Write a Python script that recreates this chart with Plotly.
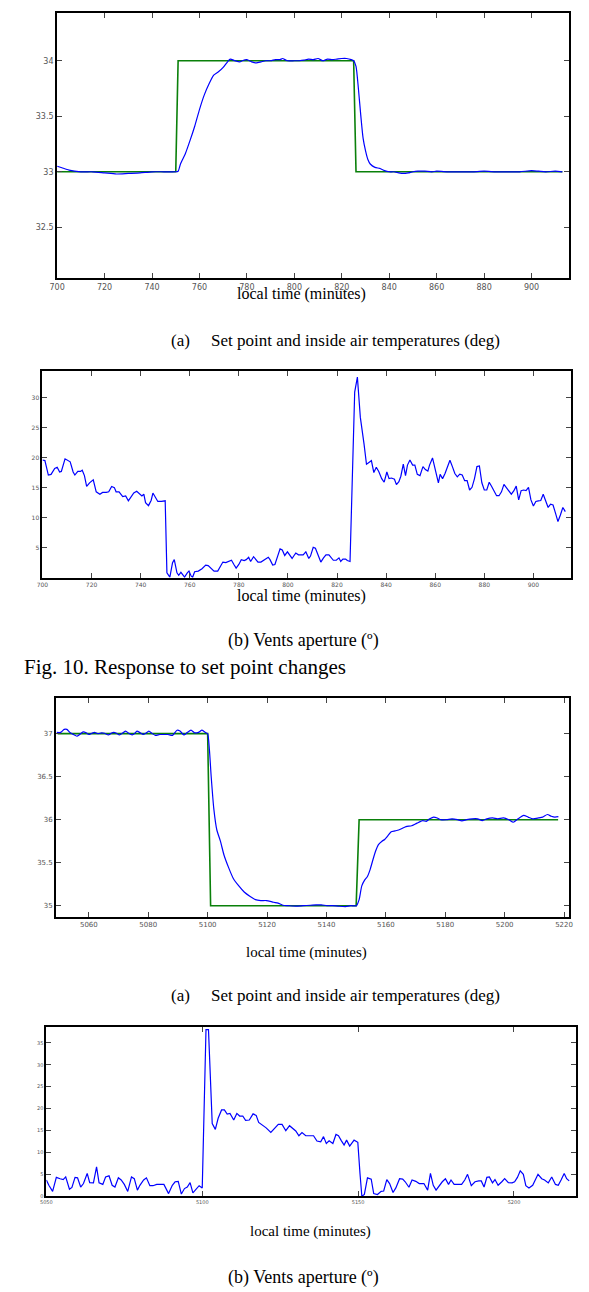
import plotly.graph_objects as go

# ---------------- DATA ----------------
# Fig 10 (a): set point and inside air temperature
sp1_t = [700, 750, 751, 825, 826, 913]
sp1_v = [33, 33, 34, 34, 33, 33]
temp1_t = [700, 702, 705, 710, 715, 720, 725, 730, 735, 740, 745, 750, 751, 752, 754, 756, 758, 760,
           762, 764, 766, 768, 770, 772, 773, 775, 777, 778, 780, 782, 784, 786, 788, 790, 792, 794,
           795, 797, 800, 802, 804, 806, 808, 810, 812, 814, 816, 818, 820, 822, 824, 825, 826, 827,
           828, 829, 830, 831, 832, 834, 836, 838, 840, 842, 844, 846, 848, 850, 852, 855, 858, 860,
           865, 870, 875, 880, 885, 890, 895, 900, 903, 906, 910, 913]
temp1_v = [33.05, 33.036, 33.015, 33.0, 33.0, 32.99, 32.98, 32.985, 32.99, 33.0, 33.0, 33.0, 33.005,
           33.07, 33.16, 33.28, 33.41, 33.56, 33.69, 33.79, 33.87, 33.9, 33.94, 33.995, 34.015, 34.0,
           33.99, 34.0, 34.01, 33.99, 33.98, 33.99, 34.0, 34.0, 34.01, 34.01, 34.02, 34.0, 34.0, 34.0,
           34.005, 34.015, 34.01, 34.02, 34.0, 34.015, 34.01, 34.015, 34.02, 34.02, 34.01, 34.0, 33.95,
           33.75, 33.51, 33.3, 33.19, 33.11, 33.07, 33.04, 33.03, 33.01, 33.0, 33.0, 32.99, 32.985,
           32.99, 33.0, 33.005, 33.005, 33.0, 33.005, 33.0, 33.0, 33.0, 33.005, 33.0, 33.0, 33.0,
           33.01, 33.005, 33.0, 33.005, 33.0]

# Fig 10 (b): vents aperture
vent1_t = [700, 701, 702.4, 703.5, 705, 706, 707, 707.7, 709.2, 710.2, 711.3, 712.5, 713.2, 714.4,
           715.5, 716.2, 717.1, 718, 719.2, 720.7, 721.9, 723.4, 724.5, 726, 727, 728.2, 729.3, 730,
           731.2, 732.7, 733.9, 735, 736, 737.2, 738.4, 739.5, 740.5, 741.3, 742, 743.2, 744.3, 745,
           745.9, 747, 748.5, 750, 750.7, 751.9, 753, 753.7, 754.8, 755.5, 756.4, 757.2, 757.9, 759,
           759.7, 760.6, 761.2, 762, 763.5, 765, 766.5, 767.5, 768.7, 769.9, 771.4, 772.5, 773.5,
           774.7, 775.8, 777, 778, 778.9, 780, 781, 782.2, 783, 784, 784.8, 786, 786.7, 787.8, 789,
           790, 791.2, 792, 792.7, 793.8, 794.7, 795.7, 796.8, 797.7, 798.7, 799.8, 800.5, 801.7,
           802.5, 803.2, 804.3, 805.2, 806.2, 807.3, 808.5, 809.2, 810.3, 811.2, 812.2, 813.4, 814.5,
           815.5, 816.7, 817.8, 818.5, 819.7, 820.8, 821.5, 822.4, 823.5, 824.2, 825.3, 826, 827.2,
           828.3, 829.5, 831, 832, 833, 834, 835, 836, 837, 838.2, 839.2, 840.3, 841.2, 842.2, 843.4,
           844.2, 845.2, 846, 847, 847.9, 848.7, 849.7, 850.8, 851.7, 852.7, 853.8, 855, 856, 857,
           857.7, 858.9, 860, 861.3, 862, 863, 864, 865, 866, 867, 868, 869, 870, 871, 872, 873, 874,
           875, 876, 877, 878, 879, 880, 881, 882, 883, 884, 885, 886, 887, 888, 889, 890, 891, 892,
           893, 894, 895, 896, 897, 898, 899, 900, 901, 902, 903, 904, 905, 906, 907, 908, 909, 910,
           911, 912, 913]
vent1_v = [19.6, 19.5, 17.1, 17.2, 18.2, 18.4, 17.6, 17.7, 19.8, 19.5, 19.3, 17.6, 17.1, 17.7, 17.7,
           17.9, 17.0, 15.2, 15.8, 16.3, 14.3, 13.9, 14.2, 14.2, 14.3, 15.2, 15.0, 14.3, 14.3, 13.5,
           13.6, 12.8, 13.4, 14.1, 14.4, 13.9, 13.6, 13.9, 12.5, 12.0, 12.9, 14.1, 13.5, 12.7, 12.7,
           12.8, 0.8, 0.1, 2.5, 3.0, 0.8, 0.4, 0.9, 0.4, 0.1, 0.8, 1.1, 0.25, 0.1, 1.0, 1.1, 1.5, 2.1,
           2.0, 1.6, 1.1, 1.1, 1.9, 2.6, 2.5, 2.7, 2.9, 2.2, 1.6, 2.2, 3.0, 2.85, 3.0, 3.4, 2.7, 3.5,
           3.1, 2.6, 2.6, 2.85, 3.2, 3.4, 3.0, 2.1, 2.2, 3.6, 4.8, 4.6, 3.7, 4.3, 3.95, 3.2, 3.7, 4.1,
           3.8, 3.8, 3.8, 4.3, 3.2, 3.6, 5.05, 4.9, 3.8, 2.6, 3.3, 3.8, 3.8, 3.3, 2.9, 2.9, 3.3, 2.7,
           3.1, 3.1, 2.85, 2.7, 11.8, 30.9, 33.4, 26.7, 22.3, 18.9, 19.2, 19.5, 17.5, 18.4, 17.7, 16.5,
           15.9, 17.6, 16.5, 16.6, 16.4, 15.5, 16.0, 16.9, 18.9, 17.0, 18.75, 19.6, 18.75, 18.75,
           17.2, 17.0, 18.5, 18.0, 17.75, 18.75, 19.95, 17.8, 15.8, 17.2, 16.5, 17.35, 18.6, 19.55,
           18.5, 17.35, 16.8, 17.25, 17.1, 16.15, 16.15, 14.6, 15.05, 16.5, 18.5, 18.6, 15.8, 14.6,
           14.6, 15.9, 15.2, 14.3, 13.65, 13.65, 14.3, 15.55, 15.0, 14.45, 13.9, 14.45, 15.25, 12.95,
           14.5, 14.6, 14.5, 15.05, 12.95, 11.95, 12.7, 12.8, 12.85, 13.9, 12.85, 11.7, 12.25, 12.1,
           10.75, 9.35, 10.45, 11.7, 11.0]

# Fig 11 (a): set point and inside air temperature
sp2_t = [5049.5, 5100, 5101, 5150, 5151, 5218]
sp2_v = [37, 37, 35, 35, 36, 36]
temp2_t = [5049.2, 5050.5, 5051.7, 5052.6, 5053.6, 5054.8, 5056, 5056.9, 5058.1, 5059.1, 5060, 5061,
           5061.9, 5063.1, 5064.3, 5065.3, 5066.6, 5067.5, 5068.4, 5069.3, 5070.3, 5071.5, 5072.4,
           5073.4, 5074.6, 5075.5, 5076.2, 5077.3, 5078.3, 5079.2, 5080.2, 5081.2, 5082.4, 5083.9,
           5085.1, 5086.6, 5088.2, 5089.7, 5090.7, 5092, 5093.2, 5094.4, 5095.6, 5096.9, 5098.1,
           5099.4, 5100, 5100.6, 5101.2, 5102.1, 5103.1, 5104.3, 5105.5, 5107.1, 5108.6, 5110.5,
           5112.3, 5114.2, 5116.1, 5117.9, 5119.8, 5122.2, 5123.7, 5125.3, 5127.2, 5129.7, 5132.1,
           5134.6, 5136.5, 5138.3, 5140.2, 5142, 5143.9, 5146.4, 5148.2, 5150.1, 5151, 5151.9,
           5152.9, 5153.8, 5154.7, 5155.7, 5156.5, 5157.5, 5158.7, 5159.6, 5160.6, 5161.8, 5163.1,
           5164.3, 5165.6, 5166.8, 5168.7, 5169.9, 5171.1, 5172.4, 5173.6, 5174.8, 5176.1, 5177.3,
           5178.5, 5180.4, 5182.3, 5184.1, 5185.6, 5187.2, 5189.1, 5190.9, 5192.5, 5194, 5195.9,
           5197.7, 5199.6, 5201.4, 5202.9, 5204.5, 5206.4, 5207.9, 5209.5, 5211.4, 5212.8, 5214.4,
           5215.7, 5216.9, 5218.1]
temp2_v = [37.015, 37.015, 37.05, 37.05, 37.015, 36.99, 36.97, 36.99, 37.02, 37.01, 36.99, 37.005,
           37.015, 37.0, 37.01, 37.005, 36.985, 37.005, 37.015, 37.005, 36.985, 37.01, 37.03, 37.005,
           36.985, 37.005, 37.03, 37.01, 36.99, 37.005, 37.03, 37.005, 36.98, 36.99, 36.99, 36.99,
           36.98, 37.04, 37.03, 36.985, 37.015, 37.04, 37.01, 37.015, 37.04, 37.01, 37.0, 36.81, 36.5,
           36.12, 35.88, 35.75, 35.59, 35.44, 35.32, 35.23, 35.16, 35.11, 35.07, 35.06, 35.06, 35.04,
           35.03, 35.005, 35.0, 34.995, 35.0, 35.005, 35.01, 35.01, 35.0, 35.0, 34.995, 34.99, 35.0,
           35.0, 35.07, 35.23, 35.3, 35.34, 35.42, 35.54, 35.63, 35.71, 35.75, 35.77, 35.81, 35.86,
           35.87, 35.88, 35.9, 35.92, 35.93, 35.95, 35.97, 35.99, 35.98, 36.01, 36.03, 36.02, 36.0,
           36.0, 36.01, 36.0, 35.985, 36.0, 36.01, 36.01, 35.99, 36.01, 36.02, 36.01, 36.02, 36.0,
           35.97, 36.01, 36.05, 36.03, 36.01, 36.02, 36.03, 36.06, 36.04, 36.03, 36.035]

# Fig 11 (b): vents aperture
vent2_t = [5050, 5050.8, 5052, 5053.2, 5054.4, 5055.4, 5056.2, 5057.4, 5058.2, 5059.2, 5060, 5061,
           5061.9, 5063.1, 5063.9, 5065.1, 5066.1, 5066.9, 5068.1, 5069, 5070.1, 5071.1, 5072, 5073.1,
           5074, 5075, 5076.1, 5077.3, 5078.2, 5079.2, 5080, 5081.2, 5082.1, 5083.2, 5084.2, 5085.4,
           5086.8, 5087.7, 5089.2, 5090.4, 5091.3, 5092.3, 5093.3, 5094.3, 5095.2, 5096.1, 5097,
           5098.1, 5099, 5100, 5100.6, 5101.2, 5102, 5103.2, 5104.2, 5105.1, 5106.2, 5107.1, 5108,
           5108.9, 5110.1, 5111.1, 5112, 5113, 5113.9, 5115.1, 5116.3, 5117.3, 5118.1, 5119.3,
           5120.5, 5122, 5123.2, 5124.4, 5125.6, 5126.8, 5128, 5129.2, 5130, 5131, 5132, 5133.2,
           5134.4, 5135.7, 5136.8, 5138, 5138.9, 5139.8, 5140.7, 5141.9, 5142.9, 5143.7, 5144.6,
           5145.5, 5146.3, 5147.3, 5148.7, 5149.9, 5150.6, 5151.2, 5152, 5153, 5154.2, 5155, 5156.2,
           5157.4, 5158.2, 5159.2, 5160.1, 5161.2, 5162.1, 5163.3, 5164.3, 5165.1, 5166.3, 5167.3,
           5168.5, 5169.6, 5171.1, 5172.3, 5173.2, 5174.1, 5175, 5176.1, 5177, 5178, 5179, 5179.8,
           5180.8, 5182, 5183.2, 5184.2, 5185.1, 5186.3, 5187.5, 5188.7, 5189.5, 5190.4, 5191.3,
           5192.1, 5193.1, 5193.9, 5194.9, 5196.1, 5197, 5198.2, 5199.4, 5200.2, 5201.1, 5202, 5203,
           5203.8, 5204.8, 5206, 5206.8, 5207.7, 5208.9, 5209.8, 5211, 5212.1, 5213.3, 5214.2,
           5215.1, 5216.1, 5216.9, 5217.7]
vent2_v = [3.7, 2.5, 1.1, 4.3, 4.0, 3.8, 4.4, 1.6, 2.0, 4.3, 4.2, 2.1, 2.9, 5.2, 3.1, 3.05, 6.7, 3.05,
           2.7, 4.4, 4.65, 2.5, 2.1, 4.2, 3.7, 2.7, 1.1, 4.4, 4.0, 1.4, 2.5, 3.7, 4.2, 2.4, 2.4, 2.7,
           2.7, 2.7, 0.6, 2.5, 3.3, 3.4, 0.5, 1.75, 2.1, 3.1, 0.75, 1.6, 2.4, 1.9, 18.5, 38.0, 38.0,
           16.6, 15.25, 17.8, 19.7, 19.7, 18.75, 18.9, 17.4, 18.9, 18.3, 18.3, 17.3, 17.4, 18.8,
           18.45, 16.85, 16.25, 15.6, 14.55, 15.5, 16.4, 16.4, 14.95, 16.1, 15.5, 14.9, 13.8, 14.55,
           13.8, 13.8, 13.8, 12.6, 12.4, 13.6, 12.05, 12.65, 12.05, 14.1, 13.8, 12.7, 11.7, 12.8,
           11.45, 12.8, 12.3, 5.2, 0.0, 0.4, 4.2, 3.9, 0.6, 0.4, 1.1, 1.2, 3.8, 2.9, 0.85, 1.9, 4.0,
           3.9, 3.3, 2.05, 3.7, 3.4, 2.9, 2.9, 1.4, 5.2, 2.5, 1.4, 2.5, 3.3, 4.0, 2.7, 3.7, 2.7, 2.7,
           2.7, 3.7, 5.0, 2.4, 3.3, 3.5, 3.5, 2.1, 4.3, 4.4, 3.05, 3.8, 2.5, 3.3, 4.0, 3.1, 3.05, 3.3,
           4.3, 5.8, 5.0, 2.4, 1.9, 2.5, 3.8, 5.0, 4.0, 3.7, 3.05, 4.4, 2.7, 2.5, 3.7, 5.2, 4.0, 3.5]

# tick definitions
p1_xticks = [700, 720, 740, 760, 780, 800, 820, 840, 860, 880, 900]
p1_yticks = [32.5, 33, 33.5, 34]
p2_yticks = [5, 10, 15, 20, 25, 30]
p3_xticks = [5060, 5080, 5100, 5120, 5140, 5160, 5180, 5200, 5220]
p3_yticks = [35, 35.5, 36, 36.5, 37]
p4_xticks = [5050, 5100, 5150, 5200]
p4_yticks = [0, 5, 10, 15, 20, 25, 30, 35]

# ---------------- FIGURE ----------------
W, H = 589, 1292
BLUE = "#0000ff"
GREEN = "#0a800a"

def dx(a, b):
    return [a / W, b / W]

def dy(top, bottom):
    return [1 - bottom / H, 1 - top / H]

fig = go.Figure()
fig.add_trace(go.Scatter(x=sp1_t, y=sp1_v, mode="lines", line=dict(color=GREEN, width=1.6), xaxis="x", yaxis="y"))
fig.add_trace(go.Scatter(x=temp1_t, y=temp1_v, mode="lines", line=dict(color=BLUE, width=1.2, shape="spline", smoothing=0.6), xaxis="x", yaxis="y"))
fig.add_trace(go.Scatter(x=vent1_t, y=vent1_v, mode="lines", line=dict(color=BLUE, width=1.2), xaxis="x2", yaxis="y2"))
fig.add_trace(go.Scatter(x=sp2_t, y=sp2_v, mode="lines", line=dict(color=GREEN, width=1.6), xaxis="x3", yaxis="y3"))
fig.add_trace(go.Scatter(x=temp2_t, y=temp2_v, mode="lines", line=dict(color=BLUE, width=1.2, shape="spline", smoothing=0.6), xaxis="x3", yaxis="y3"))
fig.add_trace(go.Scatter(x=vent2_t, y=vent2_v, mode="lines", line=dict(color=BLUE, width=1.2), xaxis="x4", yaxis="y4"))

def ax(domain, rng, ticks, fsize, anchor, labels=None):
    d = dict(domain=domain, range=rng, tickvals=ticks, showgrid=False, zeroline=False,
             showline=True, linecolor="black", linewidth=2, mirror="ticks",
             ticks="inside", ticklen=5, tickwidth=1, tickcolor="#444",
             tickfont=dict(family="DejaVu Sans", size=fsize, color="#555"), anchor=anchor)
    if labels is not None:
        d["ticktext"] = labels
    return d

lay = dict(width=W, height=H, margin=dict(l=0, r=0, t=0, b=0), autosize=False,
           paper_bgcolor="white", plot_bgcolor="white", showlegend=False)
lay["xaxis"] = ax(dx(42, 565), [700, 916], p1_xticks, 8, "y")
lay["yaxis"] = ax(dy(5, 271), [32.04, 34.43], p1_yticks, 8, "x")
lay["xaxis2"] = ax(dx(27, 567), [700, 915.5], p1_xticks, 6, "y2")
lay["yaxis2"] = ax(dy(364, 571), [0, 34.4], p2_yticks, 6, "x2")
lay["xaxis3"] = ax(dx(41, 564), [5049, 5221.5], p3_xticks, 7, "y3")
lay["yaxis3"] = ax(dy(692, 911), [34.87, 37.41], p3_yticks, 7, "x3")
lay["xaxis4"] = ax(dx(31, 572), [5050, 5220], p4_xticks, 5, "y4")
lay["yaxis4"] = ax(dy(1021, 1191), [0, 38.7], p4_yticks, 5, "x4")
fig.update_layout(**lay)

SERIF = "Liberation Serif"

def txt(s, xc, yc, size, xanchor="center"):
    fig.add_annotation(text=s, x=xc / W, y=1 - yc / H, xref="paper", yref="paper",
                       xanchor=xanchor, yanchor="middle", showarrow=False,
                       font=dict(family=SERIF, size=size, color="black"))

txt("local time (minutes)", 291, 287, 16)
txt("(a)&nbsp;&nbsp;&nbsp;&nbsp;&nbsp;Set point and inside air temperatures (deg)", 326, 333, 17)
txt("local time (minutes)", 291, 589, 16)
txt("(b) Vents aperture (º)", 293, 634, 18)
txt("Fig. 10. Response to set point changes", 6, 661, 21, "left")
txt("local time (minutes)", 297, 947, 15)
txt("(a)&nbsp;&nbsp;&nbsp;&nbsp;&nbsp;Set point and inside air temperatures (deg)", 326, 990, 17)
txt("local time (minutes)", 301, 1226, 15)
txt("(b) Vents aperture (º)", 293, 1272, 18)
txt("Fig. 11.&nbsp;&nbsp;Response to set point changes", 6, 1295, 21, "left")

fig.write_html("out.html")
